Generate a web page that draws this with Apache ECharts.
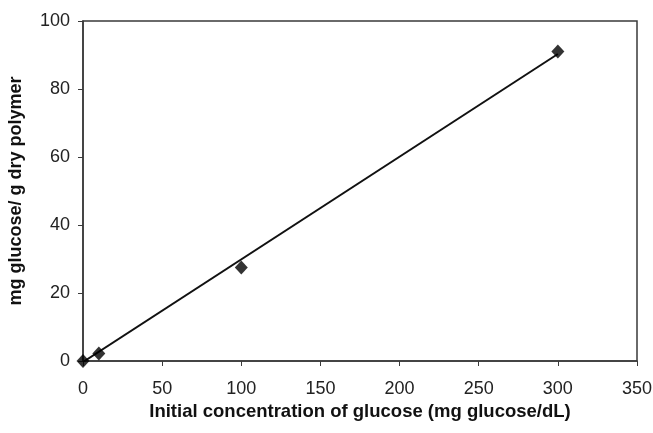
<!DOCTYPE html>
<html><head><meta charset="utf-8">
<script src="https://cdn.jsdelivr.net/npm/echarts@6/dist/echarts.min.js"></script>
<style>html,body{margin:0;padding:0;background:#fff}#c{width:653px;height:433px}</style>
</head><body><div id="c"></div>
<script>
var concentrations = [0, 10, 100, 300];
var uptake = [0, 2.2, 27.5, 91];
var trendX = [0, 300];
var trendY = [-0.3, 90.3];
var xTicks = [0, 50, 100, 150, 200, 250, 300, 350];
var yTicks = [0, 20, 40, 60, 80, 100];

var pts = concentrations.map(function(x, i){ return [x, uptake[i]]; });
var trend = trendX.map(function(x, i){ return [x, trendY[i]]; });
var font = 'Liberation Sans, Arial, sans-serif';
var chart = echarts.init(document.getElementById('c'));
chart.setOption({
  animation: false,
  grid: {left: 83, right: 16, top: 21, bottom: 72, containLabel: false, outerBoundsMode: 'none',
         show: true, borderColor: '#3a3a3a', borderWidth: 1.5, backgroundColor: '#fff'},
  xAxis: {
    type: 'value', min: xTicks[0], max: xTicks[xTicks.length - 1], interval: xTicks[1] - xTicks[0],
    name: 'Initial concentration of glucose (mg glucose/dL)',
    nameLocation: 'middle', nameGap: 40,
    nameTextStyle: {fontFamily: font, fontWeight: 'bold', fontSize: 18.5, color: '#111'},
    axisLine: {show: true, onZero: false, lineStyle: {color: '#3a3a3a', width: 1.5}},
    axisTick: {show: true, inside: false, length: 5, lineStyle: {color: '#3a3a3a'}},
    axisLabel: {fontFamily: font, fontSize: 18, color: '#222', margin: 19},
    splitLine: {show: false}
  },
  yAxis: {
    type: 'value', min: yTicks[0], max: yTicks[yTicks.length - 1], interval: yTicks[1] - yTicks[0],
    name: 'mg glucose/ g dry polymer',
    nameLocation: 'middle', nameGap: 58,
    nameTextStyle: {fontFamily: font, fontWeight: 'bold', fontSize: 18, color: '#111'},
    axisLine: {show: true, lineStyle: {color: '#3a3a3a', width: 1.5}},
    axisTick: {show: true, inside: false, length: 5, lineStyle: {color: '#3a3a3a'}},
    axisLabel: {fontFamily: font, fontSize: 18, color: '#222', margin: 13},
    splitLine: {show: false}
  },
  series: [
    {type: 'line', data: trend, symbol: 'none', lineStyle: {color: '#111', width: 2}, z: 2},
    {type: 'scatter', data: pts, symbol: 'diamond', symbolSize: [13, 14], itemStyle: {color: '#000'}, z: 3}
  ]
});
</script></body></html>
